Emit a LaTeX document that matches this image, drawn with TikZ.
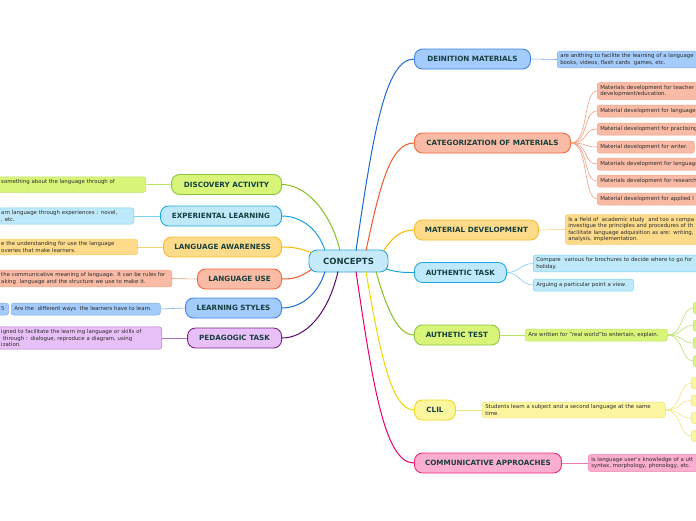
\documentclass[tikz,border=0pt]{standalone}
\usepackage{fontspec}
\setmainfont{DejaVu Sans}
\definecolor{maintxt}{HTML}{16403F}
\definecolor{subtxt}{HTML}{2C2C2C}
\definecolor{bluF}{HTML}{A3CBFB}\definecolor{bluD}{HTML}{3F84E5}\definecolor{bluL}{HTML}{1C6AD6}\definecolor{bluS}{HTML}{7FAEEF}
\definecolor{orF}{HTML}{F9BBA5}\definecolor{orD}{HTML}{F2683C}\definecolor{orL}{HTML}{F05A28}\definecolor{orS}{HTML}{F5A083}
\definecolor{yeF}{HTML}{FEDB8A}\definecolor{yeD}{HTML}{F8BC2A}\definecolor{yeL}{HTML}{F8B800}\definecolor{yeS}{HTML}{F9D070}
\definecolor{cyF}{HTML}{BDE9FB}\definecolor{cyD}{HTML}{22A8E2}\definecolor{cyL}{HTML}{14A4E0}\definecolor{cyS}{HTML}{7ED0F2}
\definecolor{grF}{HTML}{D8F57A}\definecolor{grD}{HTML}{8CC63F}\definecolor{grL}{HTML}{88C020}\definecolor{grS}{HTML}{BCE26A}
\definecolor{lyF}{HTML}{FDF6A0}\definecolor{lyD}{HTML}{F0D820}\definecolor{lyL}{HTML}{F0D800}\definecolor{lyS}{HTML}{F4E47A}
\definecolor{pkF}{HTML}{FCAED0}\definecolor{pkD}{HTML}{EE2A7B}\definecolor{pkL}{HTML}{E8006A}\definecolor{pkS}{HTML}{F27AAE}
\definecolor{puF}{HTML}{E8C0F8}\definecolor{puD}{HTML}{7A2585}\definecolor{puL}{HTML}{5A0A6A}\definecolor{puS}{HTML}{B070C0}
\definecolor{ceF}{HTML}{C7EAFB}\definecolor{ceD}{HTML}{2EA6DE}
\begin{document}
\begin{tikzpicture}[x=1pt,y=-1pt,
 main/.style={rounded corners=8pt, line width=0.9pt, minimum height=20pt, inner xsep=4pt, inner ysep=0pt, font=\fontsize{7.2}{8}\selectfont\bfseries, text=maintxt},
 sub/.style={rounded corners=2.5pt, line width=0.5pt, minimum height=12pt, inner xsep=3pt, inner ysep=2.4pt, font=\fontsize{5.4}{6.6}\selectfont, text=subtxt, align=left},
 br/.style={line width=1pt},
 sl/.style={line width=0.6pt}]
\useasboundingbox (0,0) rectangle (696,520);
\fill[white] (0,0) rectangle (696,520);
\clip (0,0) rectangle (696,520);

% central
\node[main, font=\fontsize{8.5}{9}\selectfont\bfseries, minimum width=79, minimum height=22, fill=ceF, draw=ceD] (c) at (348.5,261) {CONCEPTS};

% right main nodes
\node[main, anchor=west, minimum width=116, fill=bluF, draw=bluD] (dm) at (414,59) {DEINITION MATERIALS};
\node[main, anchor=west, minimum width=156, fill=orF, draw=orD] (cat) at (414,143) {CATEGORIZATION OF MATERIALS};
\node[main, anchor=west, minimum width=124, fill=yeF, draw=yeD] (md) at (414,230) {MATERIAL DEVELOPMENT};
\node[main, anchor=west, minimum width=92, fill=cyF, draw=cyD] (at) at (414,272.5) {AUTHENTIC TASK};
\node[main, anchor=west, minimum width=85, fill=grF, draw=grD] (atest) at (414,335) {AUTHETIC TEST};
\node[main, anchor=west, minimum width=41, fill=lyF, draw=lyD] (clil) at (414,410) {CLIL};
\node[main, anchor=west, minimum width=147, fill=pkF, draw=pkD] (ca) at (414,463) {COMMUNICATIVE APPROACHES};

% left main nodes
\node[main, anchor=east, minimum width=110, fill=grF, draw=grD] (da) at (282,184.5) {DISCOVERY ACTIVITY};
\node[main, anchor=east, minimum width=121, fill=cyF, draw=cyD] (el) at (282,216) {EXPERIENTAL LEARNING};
\node[main, anchor=east, minimum width=118, fill=yeF, draw=yeD] (la) at (282,247) {LANGUAGE AWARENESS};
\node[main, anchor=east, minimum width=84, fill=orF, draw=orD] (lu) at (282,279) {LANGUAGE USE};
\node[main, anchor=east, minimum width=96, fill=bluF, draw=bluD] (ls) at (282,308) {LEARNING STYLES};
\node[main, anchor=east, minimum width=94, fill=puF, draw=puD] (pt) at (282,338) {PEDAGOGIC TASK};

% branch start points on the central node
\coordinate (s1) at (356,250.5);
\coordinate (s2) at (366,250.5);
\coordinate (s3) at (383,251.5);
\coordinate (s4) at (386,269);
\coordinate (s5) at (376,271.5);
\coordinate (s6) at (366,271.5);
\coordinate (s7) at (356,271.5);
\coordinate (t1) at (340,250.5);
\coordinate (t2) at (325,250.5);
\coordinate (t3) at (312,253);
\coordinate (t4) at (312,269);
\coordinate (t5) at (325,271.5);
\coordinate (t6) at (338,271.5);

% right branches
\draw[br, bluL] (s1) .. controls (373,135) and (385,59) .. (dm.west);
\draw[br, orL] (s2) .. controls (380,186) and (390,143) .. (cat.west);
\draw[br, yeL] (s3) .. controls (392,238) and (400,230) .. (md.west);
\draw[br, cyL] (s4) .. controls (398,272.5) and (404,272.5) .. (at.west);
\draw[br, grL] (s5) .. controls (387,310) and (398,335) .. (atest.west);
\draw[br, lyL] (s6) .. controls (380,355) and (392,410) .. (clil.west);
\draw[br, pkL] (s7) .. controls (373,387) and (385,463) .. (ca.west);
% left branches
\draw[br, grL] (t1) .. controls (330,210) and (305,184.5) .. (da.east);
\draw[br, cyL] (t2) .. controls (318,228) and (300,216) .. (el.east);
\draw[br, yeL] (t3) .. controls (300,248) and (292,247) .. (la.east);
\draw[br, orL] (t4) .. controls (300,278) and (292,279) .. (lu.east);
\draw[br, bluL] (t5) .. controls (318,295) and (300,308) .. (ls.east);
\draw[br, puL] (t6) .. controls (328,315) and (305,338) .. (pt.east);

% right sub nodes
\node[sub, anchor=west, text width=160, fill=bluF, draw=bluS] (dm1) at (557,59.5) {\mbox{are anithing to facilite the learning of a language}\\\mbox{books, videos, flash cards\ \ games, etc.}};
\node[sub, anchor=west, text width=130, fill=orF, draw=orS] (cat1) at (597,91) {\mbox{Materials development for teacher}\\\mbox{development/education.}};
\node[sub, anchor=west, text width=130, fill=orF, draw=orS] (cat2) at (597,111) {\mbox{Material development for language}};
\node[sub, anchor=west, text width=130, fill=orF, draw=orS] (cat3) at (597,129) {\mbox{Material development for practising}};
\node[sub, anchor=west, text width=91, fill=orF, draw=orS] (cat4) at (597,147) {\mbox{Material development for writer.}};
\node[sub, anchor=west, text width=130, fill=orF, draw=orS] (cat5) at (597,164) {\mbox{Materials development for language}};
\node[sub, anchor=west, text width=130, fill=orF, draw=orS] (cat6) at (597,181) {\mbox{Materials development for research}};
\node[sub, anchor=west, text width=130, fill=orF, draw=orS] (cat7) at (597,199) {\mbox{Material development for applied l}};
\node[sub, anchor=west, text width=160, fill=yeF, draw=yeS] (md1) at (565,229.5) {\mbox{Is a field of\ \ academic study\ \ and too a compa}\\\mbox{investigue the principles and procedures of th}\\\mbox{facilitate language adquisition as are: writing,}\\\mbox{analysis, implementation.}};
\node[sub, anchor=west, text width=190, fill=cyF, draw=cyS] (at1) at (533,263.5) {\mbox{Compare\ \ various for brochures to decide where to go for}\\\mbox{holiday.}};
\node[sub, anchor=west, text width=94, fill=cyF, draw=cyS] (at2) at (533,285) {\mbox{Arguing a particular point a view.}};
\node[sub, anchor=west, text width=136, fill=grF, draw=grS] (ate1) at (525,335) {\mbox{Are written for "real world"to entertain, explain.}};
\node[sub, anchor=west, text width=177, fill=lyF, draw=lyS] (cl1) at (482,410) {\mbox{Students learn a subject and a second language at the same}\\\mbox{time.}};
\node[sub, anchor=west, text width=150, fill=pkF, draw=pkS] (ca1) at (588,463) {\mbox{Is language user's knowledge of a utt}\\\mbox{syntax, morphology, phonology, etc.}};

% small right-edge boxes
\node[sub, anchor=west, minimum width=20, minimum height=11, fill=grF, draw=grS] (g1) at (693,308) {};
\node[sub, anchor=west, minimum width=20, minimum height=11, fill=grF, draw=grS] (g2) at (693,325.5) {};
\node[sub, anchor=west, minimum width=20, minimum height=11, fill=grF, draw=grS] (g3) at (693,343) {};
\node[sub, anchor=west, minimum width=20, minimum height=11, fill=grF, draw=grS] (g4) at (693,361) {};
\node[sub, anchor=west, minimum width=20, minimum height=11, fill=lyF, draw=lyS] (y1) at (691,383) {};
\node[sub, anchor=west, minimum width=20, minimum height=11, fill=lyF, draw=lyS] (y2) at (691,400.5) {};
\node[sub, anchor=west, minimum width=20, minimum height=11, fill=lyF, draw=lyS] (y3) at (691,418) {};
\node[sub, anchor=west, minimum width=20, minimum height=11, fill=lyF, draw=lyS] (y4) at (691,436) {};

% left sub nodes
\node[sub, anchor=east, text width=141.5, fill=grF, draw=grS] (da1) at (146,184.5) {\mbox{something about the language through of}\\\mbox{}};
\node[sub, anchor=east, text width=129.5, fill=cyF, draw=cyS] (el1) at (134,216) {\mbox{arn language through experiences : novel,}\\\mbox{, etc.}};
\node[sub, anchor=east, text width=133.5, fill=yeF, draw=yeS] (la1) at (138,247) {\mbox{e the understanding for use the language}\\\mbox{overies that make learners.}};
\node[sub, anchor=east, text width=167.5, fill=orF, draw=orS] (lu1) at (172,278.5) {\mbox{the communicative meaning of language. It can be rules for}\\\mbox{aking\ \ language and the structure we use to make it.}};
\node[sub, anchor=west, text width=143, fill=bluF, draw=bluS] (ls1) at (11,309) {\mbox{Are the\ \ different ways\ \ the learners have to learn.}};
\node[sub, anchor=east, minimum width=12, inner xsep=2pt, rounded corners=3pt, fill=bluF, draw=bluS] (ls0) at (9,309) {5};
\node[sub, anchor=east, text width=157.5, fill=puF, draw=puS] (pt1) at (162,338) {\mbox{igned to facilitate the learn ing language or skills of}\\\mbox{\ through : dialogue, reproduce a diagram, using}\\\mbox{ization.}};

% sub connectors
\draw[sl, bluS] (dm.east) -- (dm1.west);
\foreach \k in {1,...,7}{\draw[sl, orS] (cat.east) .. controls +(18,0) and +(-14,0) .. (cat\k.west);}
\draw[sl, yeS] (md.east) -- (md1.west);
\draw[sl, cyS] (at.east) .. controls +(12,0) and +(-12,0) .. (at1.west);
\draw[sl, cyS] (at.east) .. controls +(12,0) and +(-12,0) .. (at2.west);
\draw[sl, grS] (atest.east) -- (ate1.west);
\foreach \k in {1,...,4}{\draw[sl, grS] (ate1.east) .. controls +(16,0) and +(-12,0) .. (g\k.west);}
\draw[sl, lyS] (clil.east) -- (cl1.west);
\foreach \k in {1,...,4}{\draw[sl, lyS] (cl1.east) .. controls +(16,0) and +(-12,0) .. (y\k.west);}
\draw[sl, pkS] (ca.east) -- (ca1.west);
\draw[sl, grS] (da.west) -- (da1.east);
\draw[sl, cyS] (el.west) -- (el1.east);
\draw[sl, yeS] (la.west) -- (la1.east);
\draw[sl, orS] (lu.west) -- (lu1.east);
\draw[sl, bluS] (ls.west) -- (ls1.east);
\draw[sl, puS] (pt.west) -- (pt1.east);
\end{tikzpicture}
\end{document}
